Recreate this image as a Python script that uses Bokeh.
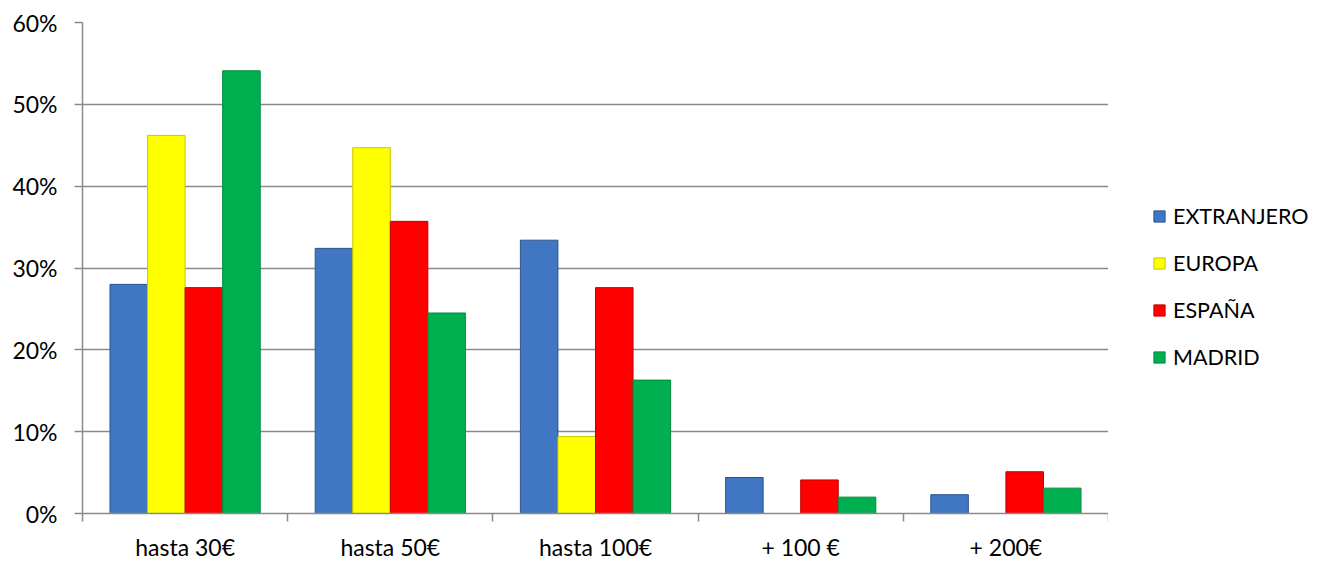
import numpy as np
from bokeh.plotting import figure
from bokeh.layouts import row
from bokeh.models import ColumnDataSource, FixedTicker, Legend, LegendItem
from bokeh.transform import dodge
from bokeh.embed import file_html
from bokeh.resources import INLINE

categories = ["hasta 30€", "hasta 50€", "hasta 100€", "+ 100 €", "+ 200€"]
series_names = ["EXTRANJERO", "EUROPA", "ESPAÑA", "MADRID"]
extranjero = [28.0, 32.4, 33.4, 4.4, 2.3]
europa = [46.2, 44.7, 9.4, 0.0, 0.0]
espana = [27.6, 35.7, 27.6, 4.1, 5.1]
madrid = [54.1, 24.5, 16.3, 2.0, 3.1]
y_ticks = [0, 10, 20, 30, 40, 50, 60]
y_tick_labels = ["0%", "10%", "20%", "30%", "40%", "50%", "60%"]

colors = ["#4176c2", "#ffff00", "#ff0000", "#00b050"]
edges = ["#2c5590", "#c8c800", "#c00000", "#008a3e"]

FONT = "Lato"
FS = "23px"
GRID = "#8a8a8a"

x_centers = [i + 0.5 for i in range(len(categories))]
src = ColumnDataSource(dict(x=x_centers, EXTRANJERO=extranjero, EUROPA=europa,
                            ESPANA=espana, MADRID=madrid))

p = figure(width=1108, height=563, x_range=(0, len(categories)), y_range=(0, 60),
           output_backend="svg", toolbar_location=None,
           min_border_left=82, min_border_top=22, min_border_right=0,
           min_border_bottom=47)
p.outline_line_color = None
p.background_fill_color = "white"

bw = 0.183
offsets = [-1.5 * bw, -0.5 * bw, 0.5 * bw, 1.5 * bw]
cols = ["EXTRANJERO", "EUROPA", "ESPANA", "MADRID"]
for col, off, c, e in zip(cols, offsets, colors, edges):
    p.vbar(x=dodge("x", off), top=col, width=bw, bottom=0, source=src,
           fill_color=c, line_color=e, line_width=1)

# x axis
xa = p.xaxis[0]
xa.ticker = FixedTicker(ticks=x_centers, minor_ticks=list(range(len(categories) + 1)))
xa.major_label_overrides = {x: lab for x, lab in zip(x_centers, categories)}
xa.major_tick_out = 0
xa.major_tick_in = 0
xa.minor_tick_out = 8
xa.minor_tick_in = 0
xa.minor_tick_line_color = GRID
xa.axis_line_color = GRID
xa.axis_line_width = 1.5
xa.minor_tick_line_width = 1.5
xa.major_label_standoff = 11
xa.major_label_text_font = FONT
xa.major_label_text_font_size = FS
xa.major_label_text_color = "#000000"

# y axis
ya = p.yaxis[0]
ya.ticker = FixedTicker(ticks=y_ticks, minor_ticks=[])
ya.major_label_overrides = {t: lab for t, lab in zip(y_ticks, y_tick_labels)}
ya.major_tick_out = 8
ya.major_tick_in = 0
ya.major_tick_line_color = GRID
ya.major_tick_line_width = 1.5
ya.axis_line_color = GRID
ya.axis_line_width = 1.5
ya.major_label_standoff = 17
ya.major_label_text_font = FONT
ya.major_label_text_font_size = FS
ya.major_label_text_color = "#000000"

p.xgrid.grid_line_color = None
p.ygrid.grid_line_color = GRID
p.ygrid.grid_line_width = 1.5
p.ygrid.ticker = FixedTicker(ticks=y_ticks)

# legend panel (separate figure to the right); its proxy bars hold no drawable data
pl = figure(width=202, height=563, x_range=(0, 1), y_range=(0, 1),
            output_backend="svg", toolbar_location=None,
            x_axis_location=None, y_axis_location=None,
            min_border=0)
pl.outline_line_color = None
pl.grid.visible = False
proxy = ColumnDataSource(dict(x=np.array([np.nan]), top=np.array([np.nan])))
lrs = []
for c, e in zip(colors, edges):
    lrs.append(pl.vbar(x="x", top="top", width=0.1, source=proxy,
                       fill_color=c, line_color=e, line_width=1))

legend = Legend(items=[LegendItem(label=n, renderers=[r]) for n, r in zip(series_names, lrs)],
                location=(44, 143), orientation="vertical",
                glyph_width=14, glyph_height=14, label_standoff=7,
                label_height=26, spacing=21, padding=0, margin=0,
                border_line_color=None, background_fill_alpha=0,
                label_text_font=FONT, label_text_font_size="21.5px",
                label_text_color="#000000")
pl.add_layout(legend, "center")

layout = row(p, pl)
open("out.html", "w").write(file_html(layout, INLINE))
